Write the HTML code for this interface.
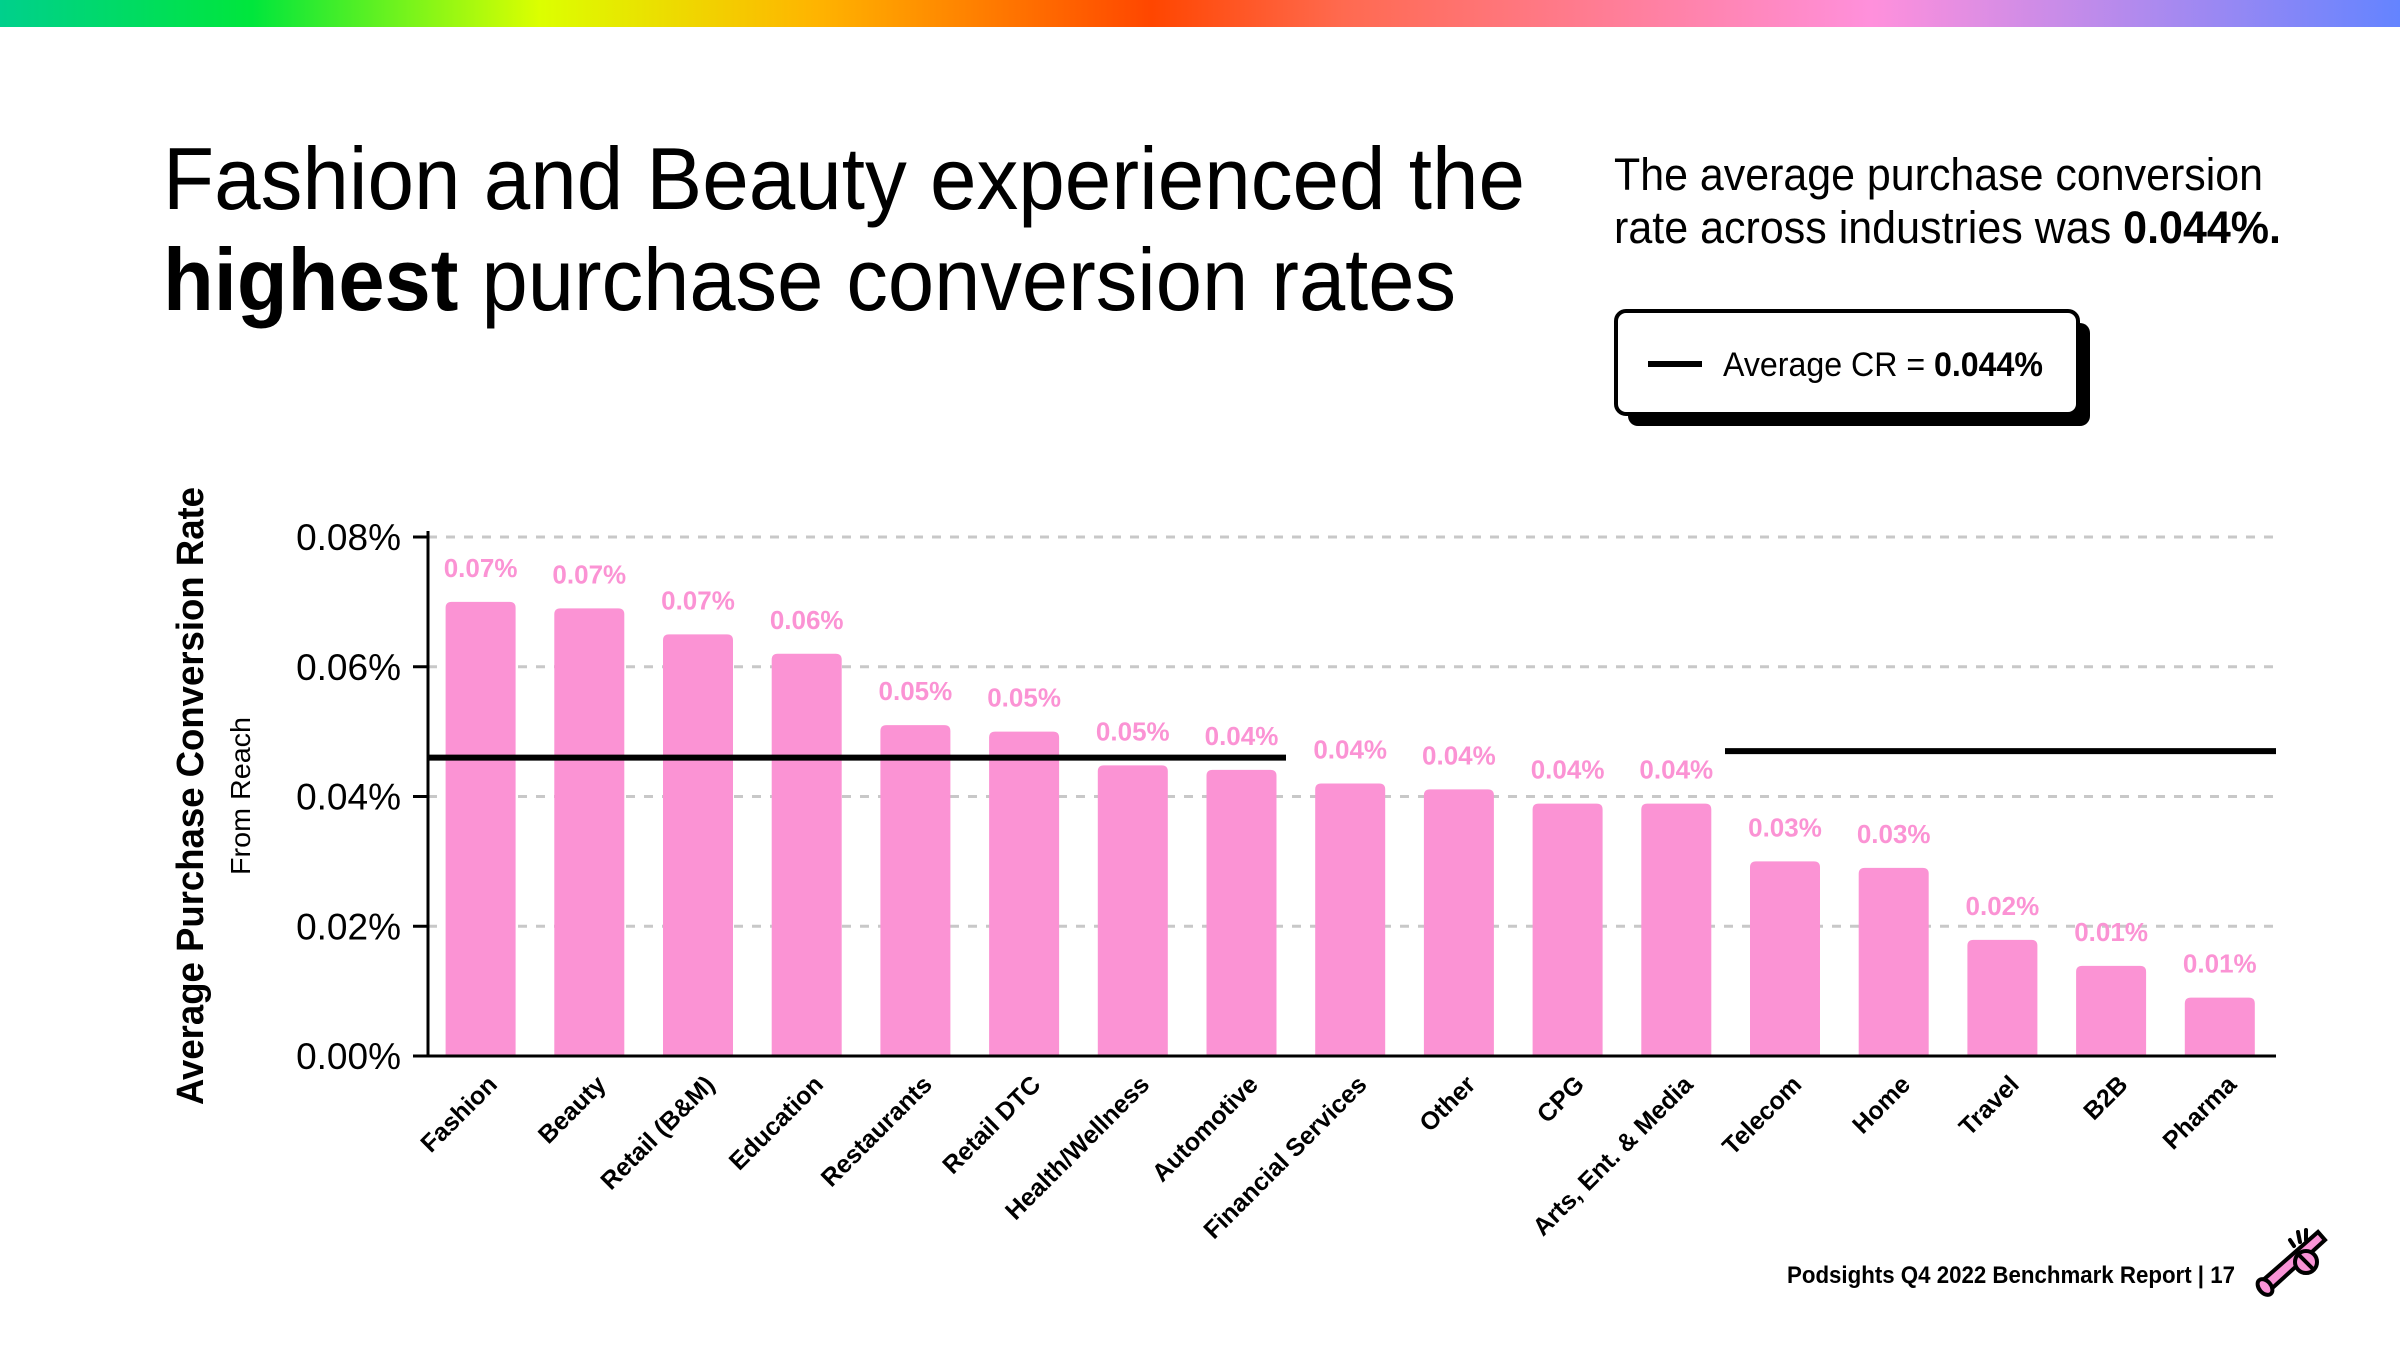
<!DOCTYPE html>
<html><head><meta charset="utf-8"><style>
html,body{margin:0;padding:0;background:#fff}
svg{display:block}
text{font-family:"Liberation Sans",sans-serif}
</style></head><body>
<svg id="chart" width="2400" height="1350" viewBox="0 0 2400 1350" xmlns="http://www.w3.org/2000/svg">
<defs>
<linearGradient id="rb" x1="0" x2="1" y1="0" y2="0">
<stop offset="0" stop-color="#00d08c"/><stop offset="0.105" stop-color="#00e63c"/>
<stop offset="0.225" stop-color="#dcff00"/><stop offset="0.34" stop-color="#ffb400"/>
<stop offset="0.48" stop-color="#ff4600"/><stop offset="0.56" stop-color="#ff6a50"/>
<stop offset="0.78" stop-color="#ff90dc"/><stop offset="1" stop-color="#6484ff"/>
</linearGradient>
</defs>
<rect x="0" y="0" width="2400" height="27" fill="url(#rb)"/>
<g>
<text x="163" y="209" font-size="88" textLength="1362" lengthAdjust="spacingAndGlyphs" fill="#000">Fashion and Beauty experienced the</text>
<text x="163" y="310" font-size="88" textLength="1293" lengthAdjust="spacingAndGlyphs" fill="#000"><tspan font-weight="bold">highest</tspan> purchase conversion rates</text>
</g>
<g>
<text x="1614" y="190" font-size="45" textLength="649" lengthAdjust="spacingAndGlyphs">The average purchase conversion</text>
<text x="1614" y="243" font-size="45" textLength="667" lengthAdjust="spacingAndGlyphs">rate across industries was <tspan font-weight="bold">0.044%.</tspan></text>
</g>
<g>
<rect x="1628" y="323" width="462" height="103" rx="10" fill="#000"/>
<rect x="1616" y="311" width="462" height="103" rx="10" fill="#fff" stroke="#000" stroke-width="4"/>
<line x1="1648" y1="364" x2="1702" y2="364" stroke="#000" stroke-width="6"/>
<text x="1723" y="376" font-size="34" textLength="320" lengthAdjust="spacingAndGlyphs">Average CR = <tspan font-weight="bold">0.044%</tspan></text>
</g>
<g>
<text transform="translate(203,796) rotate(-90)" text-anchor="middle" font-size="38" font-weight="bold" textLength="618" lengthAdjust="spacingAndGlyphs">Average Purchase Conversion Rate</text>
<text transform="translate(250,796) rotate(-90)" text-anchor="middle" font-size="28" textLength="158" lengthAdjust="spacingAndGlyphs">From Reach</text>
</g>
<g id="grid"></g><g id="bars"></g><g id="axes"></g>
<g>
<text x="2235" y="1283" text-anchor="end" font-size="24" font-weight="bold" textLength="448" lengthAdjust="spacingAndGlyphs">Podsights Q4 2022 Benchmark Report | 17</text>
</g>
<g stroke="#000" stroke-width="4" stroke-linecap="round">
<path d="M2268 1292 L2325 1240 L2318 1232 L2262 1281 Z" fill="#f993d6"/>
<ellipse cx="2265" cy="1287" rx="6" ry="9" transform="rotate(-40 2265 1287)" fill="#f993d6"/>
<circle cx="2306" cy="1262" r="11" fill="#f993d6"/>
<line x1="2300" y1="1256" x2="2312" y2="1268"/>
<line x1="2290" y1="1240" x2="2294" y2="1246"/><line x1="2298" y1="1232" x2="2300" y2="1242"/><line x1="2306" y1="1230" x2="2306" y2="1240"/>
</g>
</svg>
<script>
const categories=["Fashion","Beauty","Retail (B&M)","Education","Restaurants","Retail DTC","Health/Wellness","Automotive","Financial Services","Other","CPG","Arts, Ent. & Media","Telecom","Home","Travel","B2B","Pharma"];
const values=[0.070,0.069,0.065,0.062,0.051,0.050,0.0448,0.0441,0.042,0.0411,0.0389,0.0389,0.030,0.029,0.0179,0.0139,0.009];
const valueLabels=["0.07%","0.07%","0.07%","0.06%","0.05%","0.05%","0.05%","0.04%","0.04%","0.04%","0.04%","0.04%","0.03%","0.03%","0.02%","0.01%","0.01%"];
const yTicks=[0,0.02,0.04,0.06,0.08];
const yTickLabels=["0.00%","0.02%","0.04%","0.06%","0.08%"];
const avgLeft=0.046;
const avgRight=0.047;

const NS="http://www.w3.org/2000/svg";
const X0=428,X1=2276,Y0=1056,Y1=537,STEP=108.7,FIRST=480.6,BW=70;
const y=v=>Y0-(v/0.08)*(Y0-Y1);
const x=i=>FIRST+i*STEP;
function mk(tag,attrs,parent){const e=document.createElementNS(NS,tag);for(const k in attrs)e.setAttribute(k,attrs[k]);parent.appendChild(e);return e;}
const grid=document.getElementById('grid'),bars=document.getElementById('bars'),axes=document.getElementById('axes');
yTicks.forEach((t,i)=>{
  if(t>0){const g=mk('line',{x1:X0,x2:X1,y1:y(t),y2:y(t),stroke:'#c8c8c8','stroke-width':3,'stroke-dasharray':'9 9'},grid);
  
  }
  const tk=mk('line',{x1:X0-15,x2:X0,y1:y(t),y2:y(t),stroke:'#000','stroke-width':3},axes);
  
  
  const lb=mk('text',{x:401,y:y(t)+13,'text-anchor':'end','font-size':37},axes);
  lb.textContent=yTickLabels[i];
  
  
});
values.forEach((v,i)=>{
  const top=y(v),h=Y0-top;
  const b=mk('path',{d:`M${x(i)-BW/2} ${Y0} V${top+6} Q${x(i)-BW/2} ${top} ${x(i)-BW/2+6} ${top} H${x(i)+BW/2-6} Q${x(i)+BW/2} ${top} ${x(i)+BW/2} ${top+6} V${Y0} Z`,fill:'#fb93d4'},bars);
  
  
  const t=mk('text',{x:x(i),y:top-25,'text-anchor':'middle','font-size':26,'font-weight':'bold',fill:'#fb93d4'},bars);
  t.textContent=valueLabels[i];
  
  
  const c=mk('text',{transform:`translate(${x(i)+18},${Y0+30}) rotate(-45)`,'text-anchor':'end','font-size':25,'font-weight':'bold'},axes);
  c.textContent=categories[i];
  
  
});
const ax=mk('path',{d:`M${X0} ${Y1-6} V${Y0} H${X1}`,fill:'none',stroke:'#000','stroke-width':3},axes);


const a1=mk('line',{x1:X0,x2:1286,y1:y(avgLeft),y2:y(avgLeft),stroke:'#000','stroke-width':6},axes);


const a2=mk('line',{x1:1725,x2:X1,y1:y(avgRight),y2:y(avgRight),stroke:'#000','stroke-width':6},axes);


</script>
</body></html>
